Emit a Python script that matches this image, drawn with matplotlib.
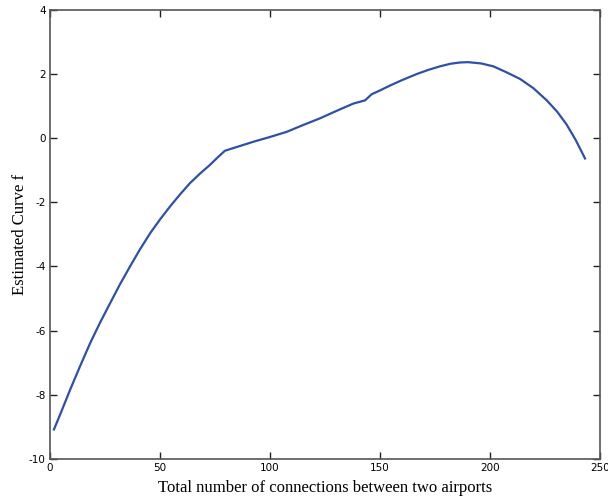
import matplotlib
matplotlib.use("Agg")
import matplotlib.pyplot as plt

plt.rcParams['axes.unicode_minus'] = False

# estimated curve
conn = [1.8, 5.0, 9.1, 13.6, 18.2, 22.7, 27.3, 31.8, 36.4, 40.9, 45.5, 50.0,
        54.5, 59.1, 63.6, 68.2, 72.7, 76.0, 79.5,
        85.0, 92.4, 100.0, 107.6, 115.0, 122.7, 131.8, 137.9, 143.2, 146.2,
        150.0, 154.5, 160.0, 166.7, 172.0, 177.3, 182.0, 186.4, 190.0, 196.0,
        201.5, 207.0, 213.6, 219.7, 225.8, 230.5, 234.8, 239.0, 243.2]
curve = [-9.08, -8.55, -7.85, -7.12, -6.40, -5.76, -5.15, -4.56, -4.00, -3.47, -2.97, -2.54,
         -2.14, -1.76, -1.41, -1.11, -0.84, -0.62, -0.40,
         -0.28, -0.12, 0.03, 0.19, 0.40, 0.61, 0.89, 1.07, 1.17, 1.36,
         1.48, 1.63, 1.80, 1.99, 2.12, 2.23, 2.31, 2.35, 2.36, 2.32,
         2.23, 2.06, 1.84, 1.55, 1.17, 0.82, 0.42, -0.07, -0.64]

fig = plt.figure(figsize=(6.08, 4.97), dpi=100)
ax = fig.add_axes([50/608, 1 - 459/497, 550/608, 449.5/497])

ax.plot(conn, curve, color="#2f4fa8", lw=1.6)

ax.set_xlim(0, 250)
ax.set_ylim(-10, 4)
ax.set_xticks([0, 50, 100, 150, 200, 250])
ax.set_yticks([-10, -8, -6, -4, -2, 0, 2, 4])
ax.tick_params(direction="in", length=5, width=1, top=True, right=True,
               labelsize=7.5, color="#222222", pad=3)
for s in ax.spines.values():
    s.set_color("#555555")
    s.set_linewidth(1.2)

ax.set_xlabel("Total number of connections between two airports",
              fontfamily="Liberation Serif", fontsize=12, labelpad=5)
ax.set_ylabel("Estimated Curve f", fontfamily="Liberation Serif", fontsize=12,
              labelpad=1)

fig.savefig("out.png", dpi=100)
